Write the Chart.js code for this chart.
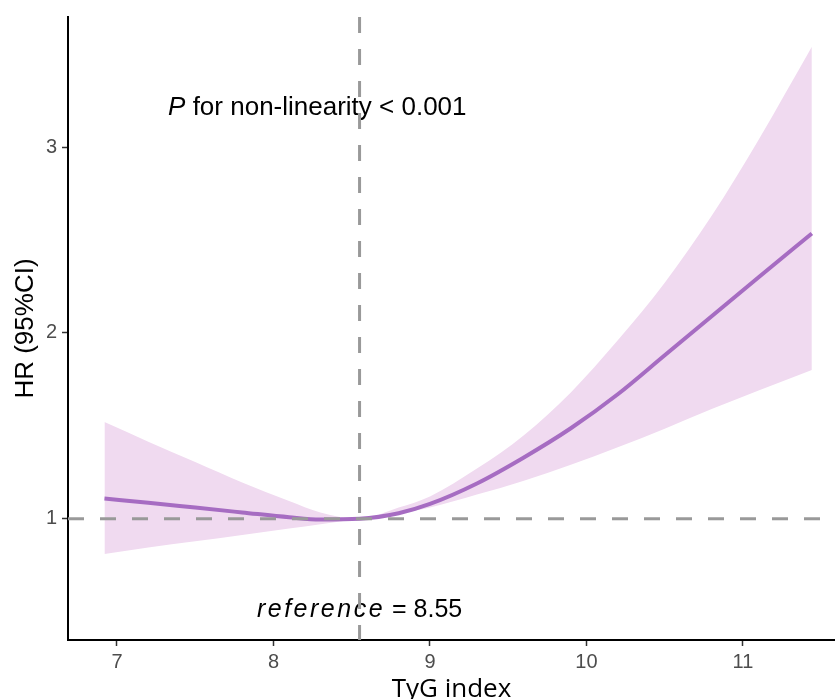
<!DOCTYPE html>
<html>
<head>
<meta charset="utf-8">
<title>TyG index RCS</title>
<script src="https://cdn.jsdelivr.net/npm/chart.js@4"></script>
<style>
  html, body { margin: 0; padding: 0; background: #fff; }
  #wrap { width: 835px; height: 699px; }
</style>
</head>
<body>
<div id="wrap"><canvas id="rcsChart" width="835" height="699"></canvas></div>
<script>
// values
const tyg      = [6.92, 7.2, 7.5, 7.8, 8.1, 8.3, 8.55, 8.8, 9.0, 9.3, 9.6, 9.9, 10.2, 10.5, 10.8, 11.1, 11.44];
const hr       = [1.109, 1.086, 1.06, 1.034, 1.008, 0.996, 1.0, 1.03, 1.08, 1.19, 1.33, 1.487, 1.67, 1.88, 2.09, 2.30, 2.535];
const hrUpper  = [1.52, 1.415, 1.305, 1.195, 1.096, 1.034, 1.0, 1.06, 1.12, 1.27, 1.45, 1.68, 1.96, 2.27, 2.63, 3.04, 3.54];
const hrLower  = [0.81, 0.845, 0.879, 0.913, 0.947, 0.97, 1.0, 1.03, 1.06, 1.13, 1.205, 1.29, 1.385, 1.485, 1.59, 1.69, 1.8];
const xTicks = [7, 8, 9, 10, 11];
const yTicks = [1, 2, 3];
const refValue = 8.55;
const refHR = 1;

const BAND = "rgb(240,218,240)";
const LINE = "rgb(166,108,194)";
const FONT = "'Liberation Sans', Arial, sans-serif";

function toPoints(ys) {
  return tyg.map((x, i) => ({ x: x, y: ys[i] }));
}

// dashed reference lines + the two annotations
const refLines = {
  id: "refLines",
  afterDatasetsDraw(chart) {
    const { ctx, chartArea: a, scales: { x, y } } = chart;
    ctx.save();
    ctx.fillStyle = "#000";
    ctx.textBaseline = "middle";
    ctx.textAlign = "left";

    // P for non-linearity
    let px = x.getPixelForValue(8.28), py = y.getPixelForValue(3.21);
    ctx.font = "italic 26px " + FONT;
    const wP = ctx.measureText("P").width;
    ctx.font = "26px " + FONT;
    const rest = " for non-linearity < 0.001";
    const wRest = ctx.measureText(rest).width;
    let sx = px - (wP + wRest) / 2;
    ctx.font = "italic 26px " + FONT;
    ctx.fillText("P", sx, py);
    ctx.font = "26px " + FONT;
    ctx.fillText(rest, sx + wP, py);

    // reference = 8.55
    px = x.getPixelForValue(refValue); py = y.getPixelForValue(0.508);
    ctx.font = "italic 25px " + FONT;
    ctx.letterSpacing = "2.5px";
    const wRef = ctx.measureText("reference").width;
    ctx.letterSpacing = "0px";
    ctx.font = "25px " + FONT;
    const tail = " = " + refValue.toFixed(2);
    const wTail = ctx.measureText(tail).width;
    sx = px - (wRef + wTail) / 2;
    ctx.font = "italic 25px " + FONT;
    ctx.letterSpacing = "2.5px";
    ctx.fillText("reference", sx, py);
    ctx.letterSpacing = "0px";
    ctx.font = "25px " + FONT;
    ctx.fillText(tail, sx + wRef, py);

    // dashed lines
    ctx.strokeStyle = "#999999";
    ctx.lineWidth = 3;
    ctx.setLineDash([16, 16]);
    const hy = y.getPixelForValue(refHR);
    ctx.beginPath();
    ctx.moveTo(a.left, hy);
    ctx.lineTo(a.right, hy);
    ctx.stroke();
    const vx = x.getPixelForValue(refValue);
    ctx.beginPath();
    ctx.moveTo(vx, a.top);
    ctx.lineTo(vx, a.bottom);
    ctx.stroke();
    ctx.restore();
  }
};

const ctx = document.getElementById("rcsChart").getContext("2d");

new Chart(ctx, {
  type: "line",
  data: {
    datasets: [
      {
        label: "HR",
        data: toPoints(hr),
        borderColor: LINE,
        borderWidth: 4,
        pointRadius: 0,
        cubicInterpolationMode: "monotone",
        fill: false,
        order: 0
      },
      {
        label: "upper",
        data: toPoints(hrUpper),
        borderColor: "rgba(0,0,0,0)",
        borderWidth: 0,
        backgroundColor: BAND,
        pointRadius: 0,
        cubicInterpolationMode: "monotone",
        fill: "+1",
        order: 1
      },
      {
        label: "lower",
        data: toPoints(hrLower),
        borderColor: "rgba(0,0,0,0)",
        borderWidth: 0,
        pointRadius: 0,
        cubicInterpolationMode: "monotone",
        fill: false,
        order: 2
      }
    ]
  },
  options: {
    responsive: false,
    animation: false,
    layout: { padding: { top: 13, right: 0, left: 0, bottom: 0 } },
    plugins: {
      legend: { display: false },
      tooltip: { enabled: false }
    },
    scales: {
      x: {
        type: "linear",
        min: 6.687,
        max: 11.588,
        afterBuildTicks: (s) => { s.ticks = xTicks.map((v) => ({ value: v })); },
        afterFit: (s) => { s.height = 59; },
        grid: { drawOnChartArea: false, drawTicks: true, tickLength: 6, tickColor: "#333", tickWidth: 1.5 },
        border: { display: true, color: "#000", width: 2 },
        ticks: {
          color: "#4d4d4d",
          font: { family: FONT, size: 20 },
          padding: 4,
          maxRotation: 0
        },
        title: {
          display: true,
          text: "TyG index",
          color: "#000",
          font: { family: "'Open Sans', " + FONT, size: 26, lineHeight: 1 },
          padding: { top: 0, bottom: -4 }
        }
      },
      y: {
        type: "linear",
        min: 0.3476,
        max: 3.70,
        afterBuildTicks: (s) => { s.ticks = yTicks.map((v) => ({ value: v })); },
        afterFit: (s) => { s.width = 68; },
        grid: { drawOnChartArea: false, drawTicks: true, tickLength: 6, tickColor: "#333", tickWidth: 1.5 },
        border: { display: true, color: "#000", width: 2 },
        ticks: {
          color: "#4d4d4d",
          font: { family: FONT, size: 20 },
          padding: 5
        },
        title: {
          display: true,
          text: "HR (95%CI)",
          color: "#000",
          font: { family: FONT, size: 26, lineHeight: 1 },
          padding: { top: 13, bottom: 0 }
        }
      }
    }
  },
  plugins: [refLines]
});
</script>
</body>
</html>
